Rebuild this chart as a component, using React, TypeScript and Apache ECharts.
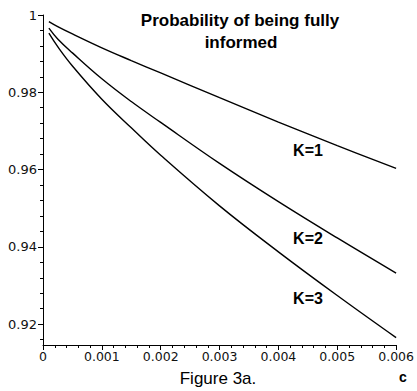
import React, { useEffect, useRef } from "react";
import * as echarts from "echarts";

const cValues = [0.0001, 0.00025, 0.0005, 0.001, 0.0015, 0.002, 0.003, 0.004, 0.005, 0.006];
const k1 = [0.9983, 0.997, 0.9951, 0.9915, 0.9882, 0.985, 0.9786, 0.9723, 0.9662, 0.9603];
const k2 = [0.9966, 0.9938, 0.9902, 0.9835, 0.9776, 0.9722, 0.9616, 0.9517, 0.9423, 0.9332];
const k3 = [0.9953, 0.9918, 0.9868, 0.9782, 0.9708, 0.9637, 0.9506, 0.9387, 0.9274, 0.9165];
const seriesNames = ["K=1", "K=2", "K=3"];
const yMajor = [0.92, 0.94, 0.96, 0.98, 1];
const yMinor = [
  0.916, 0.924, 0.928, 0.932, 0.936, 0.944, 0.948, 0.952, 0.956, 0.964, 0.968, 0.972, 0.976,
  0.984, 0.988, 0.992, 0.996,
];
const titleLines = ["Probability of being fully", "informed"];
const caption = "Figure 3a.";
const xName = "c";

const Y_MIN = 0.9146;
const Y_MAX = 1;

export default function App() {
  const ref = useRef<HTMLDivElement>(null);
  useEffect(() => {
    if (!ref.current) return;
    const chart = echarts.init(ref.current, null, { renderer: "svg" });
    const pairs = (ys: number[]) => cValues.map((c, i) => [c, ys[i]]);
    const all = [k1, k2, k3];
    const font = "Arial, 'Liberation Sans', sans-serif";
    const tickFont = "'DejaVu Sans', sans-serif";
    chart.setOption({
      animation: false,
      backgroundColor: "#ffffff",
      grid: { left: 43, right: 15, top: 15, bottom: 46 },
      xAxis: {
        type: "value",
        min: 0,
        max: 0.006,
        interval: 0.001,
        axisLine: { show: true, lineStyle: { color: "#000", width: 1 } },
        axisTick: { show: true, length: 5, lineStyle: { color: "#000" } },
        minorTick: { show: true, splitNumber: 5, length: 3, lineStyle: { color: "#000" } },
        splitLine: { show: false },
        axisLabel: {
          color: "#111",
          fontFamily: tickFont,
          fontSize: 12.5,
          margin: 5,
          showMinLabel: true,
          showMaxLabel: true,
          formatter: (v: number) => (v === 0 ? "0" : v.toFixed(3)),
        },
      },
      yAxis: [
        {
          type: "value",
          min: Y_MIN,
          max: Y_MAX,
          axisLine: { show: true, lineStyle: { color: "#000", width: 1 } },
          axisTick: { show: true, length: 5, customValues: yMajor, lineStyle: { color: "#000" } },
          splitLine: { show: false },
          axisLabel: {
            color: "#111",
            fontFamily: tickFont,
            fontSize: 13,
            margin: 6,
            customValues: yMajor,
            formatter: (v: number) => (v === 1 ? "1" : String(parseFloat(v.toFixed(2)))),
          },
        },
        {
          type: "value",
          min: Y_MIN,
          max: Y_MAX,
          position: "left",
          axisLine: { show: false },
          axisTick: { show: true, length: 3, customValues: yMinor, lineStyle: { color: "#000" } },
          splitLine: { show: false },
          axisLabel: { show: false },
        },
      ],
      series: all.map((ys, i) => ({
        name: seriesNames[i],
        type: "line",
        yAxisIndex: 0,
        data: pairs(ys),
        smooth: 0.4,
        showSymbol: false,
        symbol: "none",
        lineStyle: { color: "#000", width: 1.4 },
      })),
      graphic: [
        {
          type: "text",
          x: 240,
          y: 20,
          style: {
            text: titleLines[0],
            fill: "#000",
            font: `bold 17px ${font}`,
            textAlign: "center",
            textVerticalAlign: "middle",
          },
        },
        {
          type: "text",
          x: 241,
          y: 42,
          style: {
            text: titleLines[1],
            fill: "#000",
            font: `bold 17px ${font}`,
            textAlign: "center",
            textVerticalAlign: "middle",
          },
        },
        ...seriesNames.map((n, i) => ({
          type: "text",
          x: 308,
          y: [150, 238, 298][i],
          style: {
            text: n,
            fill: "#000",
            font: `bold 16px ${font}`,
            textAlign: "center",
            textVerticalAlign: "middle",
          },
        })),
        {
          type: "text",
          x: 218,
          y: 378,
          style: {
            text: caption,
            fill: "#000",
            font: `17px ${font}`,
            textAlign: "center",
            textVerticalAlign: "middle",
          },
        },
        {
          type: "text",
          x: 403,
          y: 377,
          style: {
            text: xName,
            fill: "#000",
            font: `bold 14px ${font}`,
            textAlign: "center",
            textVerticalAlign: "middle",
          },
        },
      ],
    });
    return () => chart.dispose();
  }, []);
  return (
    <div
      ref={ref}
      style={{ position: "fixed", left: 0, top: 0, width: 417, height: 391, background: "#fff" }}
    />
  );
}
